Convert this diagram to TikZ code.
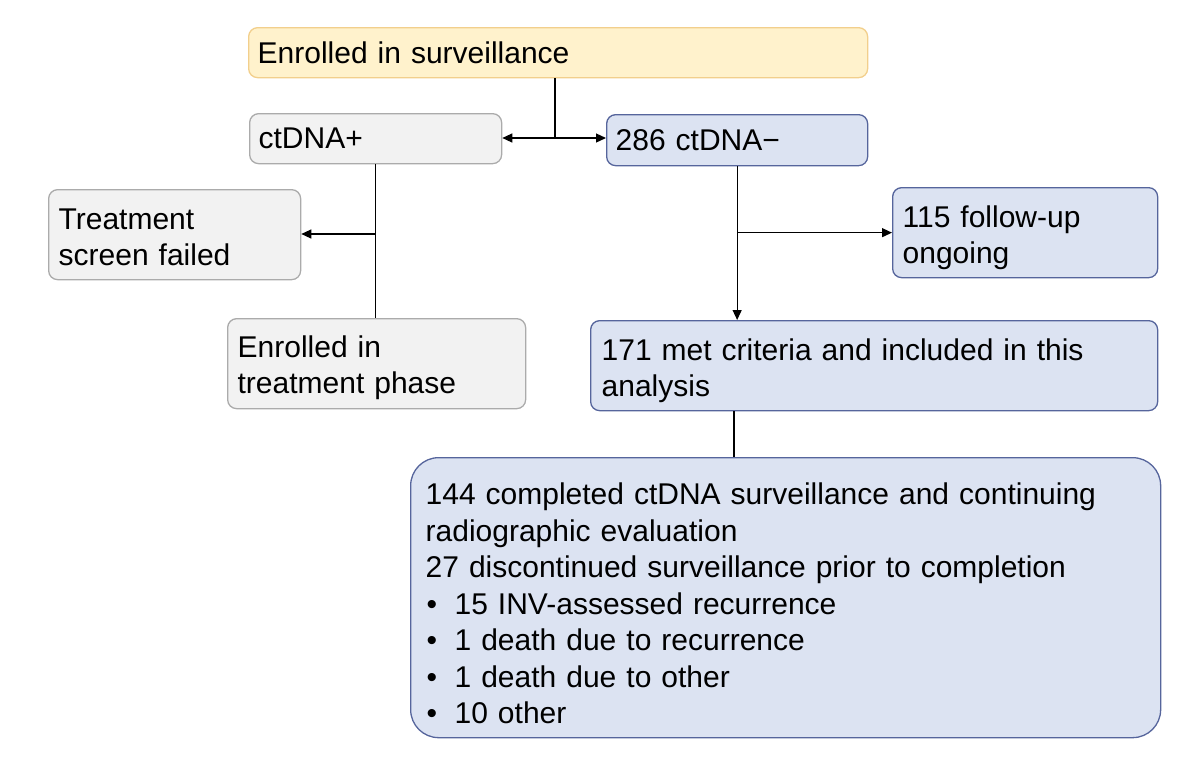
\documentclass[tikz,border=0pt]{standalone}
\usepackage{fontspec}
\setmainfont{Liberation Sans}
\usetikzlibrary{arrows.meta}
\definecolor{yfill}{HTML}{FFF2CC}
\definecolor{ydraw}{HTML}{F2CF8C}
\definecolor{gfill}{HTML}{F2F2F2}
\definecolor{gdraw}{HTML}{ABABAB}
\definecolor{bfill}{HTML}{DCE3F2}
\definecolor{bdraw}{HTML}{56659C}
\newcommand{\topstrut}[1]{\rule{0pt}{#1}}
\newcommand{\bul}{\makebox[29pt][l]{\hspace{1pt}•}}
\begin{document}
\begin{tikzpicture}[x=1pt,y=-1pt,
  font=\fontsize{30}{36.5}\selectfont,
  box/.style={rounded corners=9pt, line width=1.3pt, inner xsep=9pt, inner ysep=0pt,
    align=left, anchor=north west},
  ybox/.style={box, fill=yfill, draw=ydraw},
  gbox/.style={box, fill=gfill, draw=gdraw},
  bbox/.style={box, fill=bfill, draw=bdraw},
  conn/.style={line width=1.2pt, black},
  arr/.style={conn, -{Triangle[length=10pt,width=9pt]}},
  darr/.style={conn, {Triangle[length=10pt,width=9pt]}-{Triangle[length=10pt,width=9pt]}}
]
\useasboundingbox (0,0) rectangle (1200,761);

\node[ybox, minimum width=619pt, minimum height=50pt, text width=601pt] (top) at (248,27) {Enrolled in surveillance};
\node[gbox, minimum width=252pt, minimum height=50pt, text width=234pt] (plus) at (249,113) {ctDNA+};
\node[bbox, minimum width=261pt, minimum height=51pt, text width=243pt] (minus) at (606,114) {286 ctDNA−};
\node[gbox, inner xsep=10pt, minimum width=252pt, minimum height=90pt, text width=232pt] (fail) at (48,189) {\topstrut{26pt}Treatment\\screen failed};
\node[gbox, inner xsep=10pt, minimum width=298pt, minimum height=90pt, text width=278pt] (treat) at (227,318) {\topstrut{30pt}Enrolled in\\treatment phase};
\node[bbox, inner xsep=10pt, minimum width=265pt, minimum height=90pt, text width=245pt] (ongoing) at (892,187) {\topstrut{32pt}115 follow-up\\ongoing};
\node[bbox, inner xsep=11pt, minimum width=567pt, minimum height=90pt, text width=545pt] (met) at (590,320) {\topstrut{32pt}171 met criteria and included in this\\analysis};
\node[bbox, rounded corners=28pt, inner xsep=15pt, minimum width=750pt, minimum height=280pt, text width=720pt] (bot) at (410,457)
  {\topstrut{33pt}144 completed ctDNA surveillance and continuing\\
   radiographic evaluation\\
   27 discontinued surveillance prior to completion\\
   \bul 15 INV-assessed recurrence\\
   \bul 1 death due to recurrence\\
   \bul 1 death due to other\\
   \bul 10 other};

\coordinate (j1) at (555,138);
\coordinate (j2) at (375,234);
\coordinate (j3) at (734,0);

\draw[conn] (top.south -| j1) -- (j1);
\draw[darr] (plus.east |- j1) -- (minus.west |- j1);
\draw[conn] (plus.south) -- (plus.south |- treat.north);
\draw[arr] (j2) -- (fail.east |- j2);
\draw[arr] (minus.south) -- (minus.south |- met.north);
\draw[arr] (minus.south |- ongoing.west) -- (ongoing.west);
\draw[conn] (met.south -| j3) -- (bot.north -| j3);
\end{tikzpicture}
\end{document}
